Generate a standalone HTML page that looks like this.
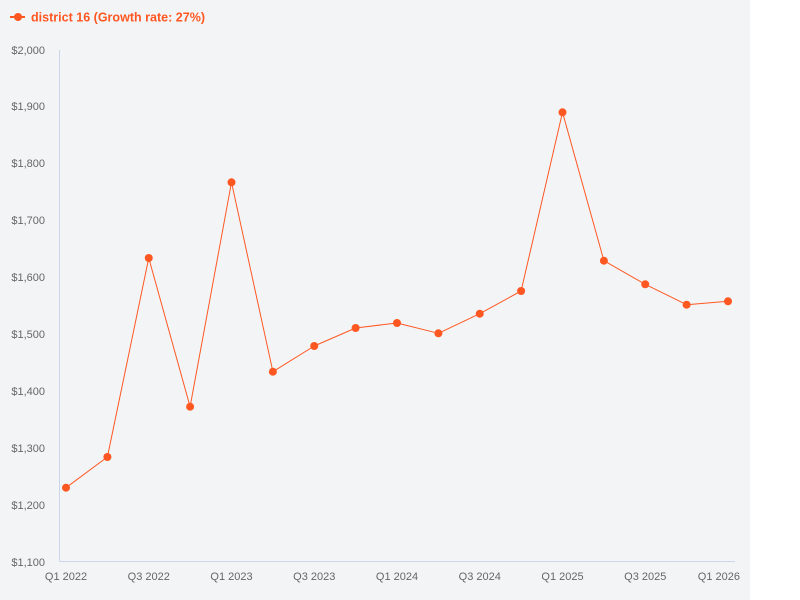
<!DOCTYPE html>
<html>
<head>
<meta charset="utf-8">
<style>
  html,body{margin:0;padding:0;background:#ffffff;}
  svg{display:block;}
  text{font-family:"Liberation Sans",sans-serif;}
</style>
</head>
<body>
<svg width="800" height="600" viewBox="0 0 800 600" xmlns="http://www.w3.org/2000/svg">
  <rect x="0" y="0" width="800" height="600" fill="#ffffff"/>
  <rect x="0" y="0" width="750" height="600" fill="#f3f4f6"/>

  <!-- legend -->
  <line x1="10" y1="17" x2="25" y2="17" stroke="#ff5722" stroke-width="2"/>
  <circle cx="18" cy="17" r="4" fill="#ff5722"/>
  <text x="31" y="21.5" font-size="12.5" font-weight="bold" fill="#ff5722" textLength="174" lengthAdjust="spacingAndGlyphs">district 16 (Growth rate: 27%)</text>

  <!-- axes -->
  <line x1="59.5" y1="50" x2="59.5" y2="561.5" stroke="#ccd6eb" stroke-width="1"/>
  <line x1="59.5" y1="561.5" x2="735" y2="561.5" stroke="#ccd6eb" stroke-width="1"/>

  <!-- y labels -->
  <g font-size="11" fill="#666666" text-anchor="end">
    <text x="45" y="54">$2,000</text>
    <text x="45" y="110">$1,900</text>
    <text x="45" y="167">$1,800</text>
    <text x="45" y="224">$1,700</text>
    <text x="45" y="281">$1,600</text>
    <text x="45" y="338">$1,500</text>
    <text x="45" y="395">$1,400</text>
    <text x="45" y="452">$1,300</text>
    <text x="45" y="509">$1,200</text>
    <text x="45" y="566">$1,100</text>
  </g>

  <!-- x labels -->
  <g font-size="11" fill="#666666" text-anchor="middle">
    <text x="66" y="580">Q1 2022</text>
    <text x="148.75" y="580">Q3 2022</text>
    <text x="231.5" y="580">Q1 2023</text>
    <text x="314.25" y="580">Q3 2023</text>
    <text x="397" y="580">Q1 2024</text>
    <text x="479.75" y="580">Q3 2024</text>
    <text x="562.5" y="580">Q1 2025</text>
    <text x="645.25" y="580">Q3 2025</text>
    <text x="740" y="580" text-anchor="end">Q1 2026</text>
  </g>

  <!-- series -->
  <polyline fill="none" stroke="#ff5722" stroke-width="1" stroke-linejoin="round"
    points="66,487.7 107.4,457 148.75,258 190.1,406.7 231.5,182.3 272.9,371.7 314.25,346 355.6,328 397,323 438.4,333.3 479.75,313.7 521.1,291 562.5,112.3 603.9,260.7 645.25,284.3 686.6,304.7 728,301.3"/>
  <g fill="#ff5722">
    <circle cx="66" cy="487.7" r="4"/>
    <circle cx="107.4" cy="457" r="4"/>
    <circle cx="148.75" cy="258" r="4"/>
    <circle cx="190.1" cy="406.7" r="4"/>
    <circle cx="231.5" cy="182.3" r="4"/>
    <circle cx="272.9" cy="371.7" r="4"/>
    <circle cx="314.25" cy="346" r="4"/>
    <circle cx="355.6" cy="328" r="4"/>
    <circle cx="397" cy="323" r="4"/>
    <circle cx="438.4" cy="333.3" r="4"/>
    <circle cx="479.75" cy="313.7" r="4"/>
    <circle cx="521.1" cy="291" r="4"/>
    <circle cx="562.5" cy="112.3" r="4"/>
    <circle cx="603.9" cy="260.7" r="4"/>
    <circle cx="645.25" cy="284.3" r="4"/>
    <circle cx="686.6" cy="304.7" r="4"/>
    <circle cx="728" cy="301.3" r="4"/>
  </g>
</svg>
</body>
</html>
